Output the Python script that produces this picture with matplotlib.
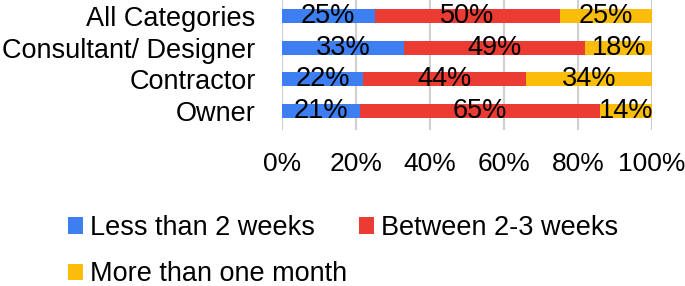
import matplotlib
matplotlib.use("Agg")
import matplotlib.pyplot as plt
from matplotlib.patches import Patch

plt.rcParams['font.family'] = ['Liberation Sans', 'DejaVu Sans']

categories = ["All Categories", "Consultant/ Designer", "Contractor", "Owner"]
less_2w = [25, 33, 22, 21]
between_2_3w = [50, 49, 44, 65]
more_month = [25, 18, 34, 14]
series_names = ["Less than 2 weeks", "Between 2-3 weeks", "More than one month"]
colors = ["#3d7ff0", "#ea3c32", "#fbbc0a"]
xticks = [0, 20, 40, 60, 80, 100]

fig = plt.figure(figsize=(6.85, 2.86), dpi=100)
ax = fig.add_axes([282/685, 1-130/286, 370/685, 130/286])

ypos = list(range(len(categories)))
left = [0]*len(categories)
fs = 19.5
for vals, c in zip([less_2w, between_2_3w, more_month], colors):
    ax.barh(ypos, vals, left=left, height=0.44, color=c, zorder=2)
    for y, l, v in zip(ypos, left, vals):
        ax.text(l + v/2, y, f"{v}%", ha='center', va='center', fontsize=fs, color='black', zorder=3)
    left = [a+b for a, b in zip(left, vals)]

ax.set_xlim(0, 100)
ax.set_ylim(3.6, -0.5)
ax.set_yticks(ypos)
ax.set_yticklabels(categories, fontsize=fs)
ax.set_xticks(xticks)
ax.set_xticklabels([f"{t}%" for t in xticks], fontsize=19)
ax.tick_params(axis='both', length=0)
ax.tick_params(axis='y', pad=19)
ax.tick_params(axis='x', pad=16)
ax.grid(axis='x', color='#d0d0d0', linewidth=1.5, zorder=0)
for s in ax.spines.values():
    s.set_visible(False)

handles = [Patch(facecolor=c, edgecolor='none') for c in colors]
order = [0, 2, 1]
fig.legend([handles[i] for i in order], [series_names[i] for i in order],
           loc='upper left', bbox_to_anchor=(68/685, 1-215/286),
           ncol=2, frameon=False, fontsize=fs, handlelength=0.55, handleheight=0.55,
           handletextpad=0.26, columnspacing=0.45, labelspacing=0.75, borderaxespad=0,
           borderpad=0)

fig.savefig("out.png", dpi=100)
